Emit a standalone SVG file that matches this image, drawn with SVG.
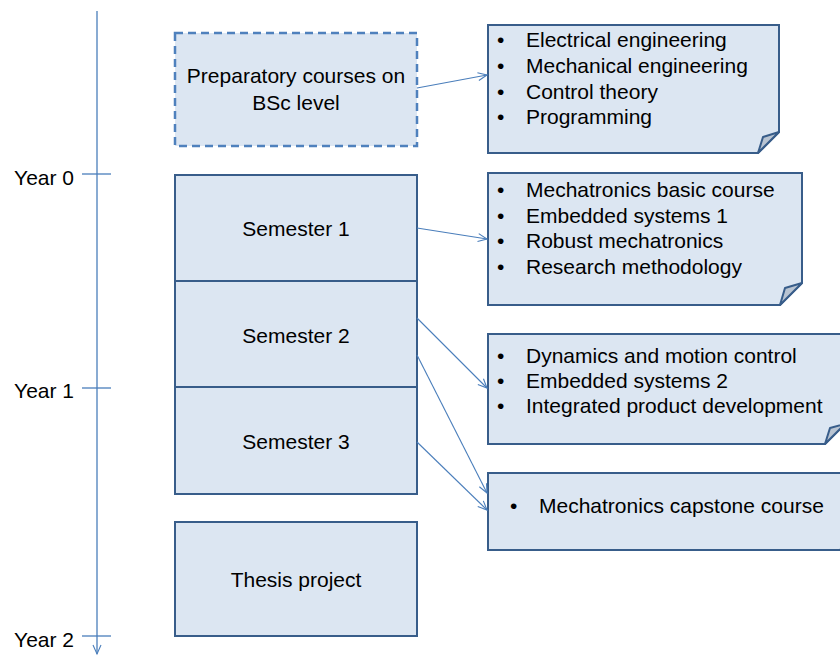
<svg xmlns="http://www.w3.org/2000/svg" width="840" height="656" viewBox="0 0 840 656">
  <style>
    .lbl { font-family: "Liberation Sans", Arial, sans-serif; font-size: 21px; fill: #000; }
    .mid { text-anchor: middle; }
    .end { text-anchor: end; }
    .box { fill: #dce6f2; stroke: #385d8a; stroke-width: 2; }
    .dash { fill: #dce6f2; stroke: #4f81bd; stroke-width: 2.5; stroke-dasharray: 8 5; }
    .fold { fill: #b9c4d2; stroke: #385d8a; stroke-width: 2; stroke-linejoin: round; }
    .axis { stroke: #4a7ebb; stroke-width: 1.3; fill: none; }
    .conn { stroke: #4a7ebb; stroke-width: 1.1; fill: none; }
  </style>
  <defs>
    <marker id="open" markerWidth="12" markerHeight="12" refX="10" refY="5" orient="auto" markerUnits="userSpaceOnUse">
      <path d="M1,1 L10,5 L1,9" fill="none" stroke="#4a7ebb" stroke-width="1.1"/>
    </marker>
  </defs>

  <!-- timeline -->
  <g id="timeline">
    <line class="axis" x1="97" y1="11" x2="97" y2="654" marker-end="url(#open)"/>
    <line class="axis" x1="82" y1="174" x2="111" y2="174"/>
    <line class="axis" x1="82" y1="388" x2="111" y2="388"/>
    <line class="axis" x1="82" y1="636" x2="111" y2="636"/>
    <text class="lbl end" x="74" y="185">Year 0</text>
    <text class="lbl end" x="74" y="398">Year 1</text>
    <text class="lbl end" x="74" y="647">Year 2</text>
  </g>

  <!-- program blocks -->
  <g id="prep">
    <rect class="dash" x="175" y="33" width="242" height="113"/>
    <text class="lbl mid" x="296" y="83">Preparatory courses on</text>
    <text class="lbl mid" x="296" y="110">BSc level</text>
  </g>
  <g id="sem1">
    <rect class="box" x="175" y="175" width="242" height="106"/>
    <text class="lbl mid" x="296" y="236">Semester 1</text>
  </g>
  <g id="sem2">
    <rect class="box" x="175" y="281" width="242" height="106"/>
    <text class="lbl mid" x="296" y="343">Semester 2</text>
  </g>
  <g id="sem3">
    <rect class="box" x="175" y="387" width="242" height="107"/>
    <text class="lbl mid" x="296" y="449">Semester 3</text>
  </g>
  <g id="thesis">
    <rect class="box" x="175" y="522" width="242" height="114"/>
    <text class="lbl mid" x="296" y="587">Thesis project</text>
  </g>

  <!-- course notes with folded corner -->
  <g id="note-prep">
    <path class="box" d="M488,25 H779 V132 L758,153 H488 Z"/>
    <path class="fold" d="M758,153 L763,137 L779,132 Z"/>
    <text class="lbl" x="497" y="47">•</text><text class="lbl" x="526" y="47">Electrical engineering</text>
    <text class="lbl" x="497" y="73">•</text><text class="lbl" x="526" y="73">Mechanical engineering</text>
    <text class="lbl" x="497" y="99">•</text><text class="lbl" x="526" y="99">Control theory</text>
    <text class="lbl" x="497" y="124">•</text><text class="lbl" x="526" y="124">Programming</text>
  </g>
  <g id="note-sem1">
    <path class="box" d="M488,173 H802 V283 L780,305 H488 Z"/>
    <path class="fold" d="M780,305 L785,288 L802,283 Z"/>
    <text class="lbl" x="497" y="197">•</text><text class="lbl" x="526" y="197">Mechatronics basic course</text>
    <text class="lbl" x="497" y="223">•</text><text class="lbl" x="526" y="223">Embedded systems 1</text>
    <text class="lbl" x="497" y="248">•</text><text class="lbl" x="526" y="248">Robust mechatronics</text>
    <text class="lbl" x="497" y="274">•</text><text class="lbl" x="526" y="274">Research methodology</text>
  </g>
  <g id="note-sem2">
    <path class="box" d="M488,334 H845 V424 L825,444 H488 Z"/>
    <path class="fold" d="M825,444 L830,428 L845,424 Z"/>
    <text class="lbl" x="497" y="363">•</text><text class="lbl" x="526" y="363">Dynamics and motion control</text>
    <text class="lbl" x="497" y="388">•</text><text class="lbl" x="526" y="388">Embedded systems 2</text>
    <text class="lbl" x="497" y="413">•</text><text class="lbl" x="526" y="413">Integrated product development</text>
  </g>
  <g id="note-sem3">
    <path class="box" d="M488,473 H860 V530 L840,550 H488 Z"/>
    <text class="lbl" x="510" y="513">•</text><text class="lbl" x="539" y="513">Mechatronics capstone course</text>
  </g>

  <!-- connectors -->
  <g id="connectors">
    <line class="conn" x1="417" y1="88" x2="487" y2="75" marker-end="url(#open)"/>
    <line class="conn" x1="417" y1="228" x2="487" y2="239" marker-end="url(#open)"/>
    <line class="conn" x1="417" y1="318" x2="487" y2="388" marker-end="url(#open)"/>
    <line class="conn" x1="417" y1="355" x2="487" y2="493" marker-end="url(#open)"/>
    <line class="conn" x1="417" y1="442" x2="487" y2="510" marker-end="url(#open)"/>
  </g>
</svg>
